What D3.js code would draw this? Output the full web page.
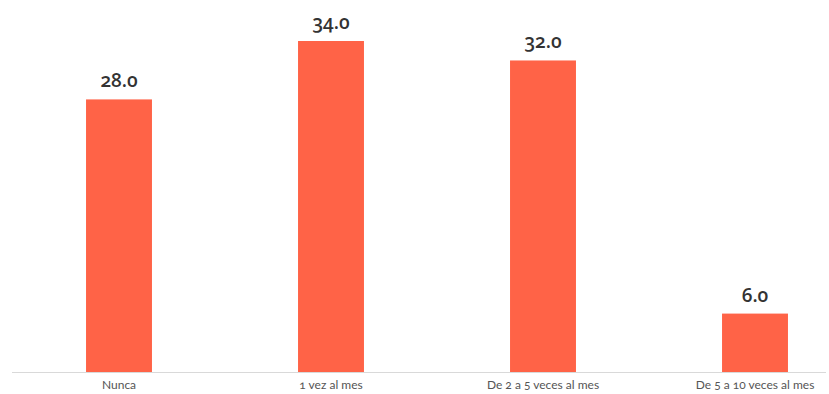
<!DOCTYPE html>
<html>
<head>
<meta charset="utf-8">
<script src="https://cdn.jsdelivr.net/npm/d3@7"></script>
<style>
  html, body { margin: 0; padding: 0; background: #ffffff; }
  svg { display: block; }
</style>
</head>
<body>
<svg id="chart" width="829" height="394"></svg>
<script>
// Frequency categories and their percentages
const categories = ["Nunca", "1 vez al mes", "De 2 a 5 veces al mes", "De 5 a 10 veces al mes"];
const values = [28.0, 34.0, 32.0, 6.0];

const svg = d3.select("#chart");
const baseY = 372;

const x = d3.scaleBand()
  .domain(categories)
  .range([13, 861])
  .paddingInner(0.689)
  .paddingOuter(0.3445);

const y = d3.scaleLinear()
  .domain([0, 34])
  .range([baseY, 41]);

const data = categories.map((c, i) => ({ cat: c, val: values[i] }));

// Bars
svg.append("g")
  .selectAll("rect")
  .data(data)
  .join("rect")
  .attr("x", d => x(d.cat))
  .attr("y", d => y(d.val))
  .attr("width", x.bandwidth())
  .attr("height", d => y(0) - y(d.val))
  .attr("fill", "#ff6347");

// Baseline
svg.append("line")
  .attr("x1", 12).attr("x2", 826)
  .attr("y1", baseY + 0.5).attr("y2", baseY + 0.5)
  .attr("stroke", "#d9d9d9")
  .attr("stroke-width", 1);

// Value labels
svg.append("g")
  .selectAll("text")
  .data(data)
  .join("text")
  .attr("x", d => x(d.cat) + x.bandwidth() / 2)
  .attr("y", d => y(d.val) - 12)
  .attr("text-anchor", "middle")
  .attr("font-family", "'Open Sans', Lato, sans-serif")
  .attr("font-size", 19)
  .attr("font-weight", 600)
  .attr("fill", "#333333")
  .style("font-variant-numeric", "oldstyle-nums")
  .text(d => d.val.toFixed(1));

// Category axis labels
const xAxis = d3.axisBottom(x).tickSize(0).tickPadding(0);
const gx = svg.append("g")
  .attr("transform", `translate(0, ${baseY + 17})`)
  .call(xAxis);
gx.select(".domain").remove();
gx.selectAll("text")
  .attr("dy", 0)
  .attr("font-family", "Lato, 'Open Sans', sans-serif")
  .attr("font-size", 12)
  .attr("fill", "#555555")
  .style("font-variant-numeric", "oldstyle-nums");
</script>
</body>
</html>
